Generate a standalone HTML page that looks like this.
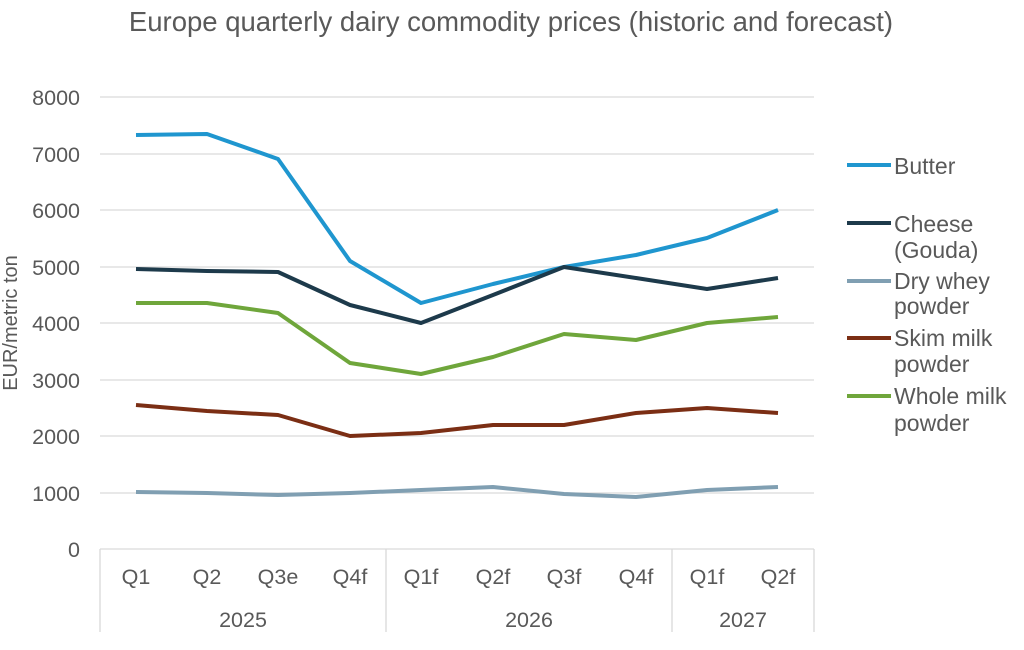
<!DOCTYPE html>
<html><head><meta charset="utf-8"><style>
html,body{margin:0;padding:0;background:#fff;}
svg text{font-family:"Liberation Sans",Arial,sans-serif;fill:#595959;}
</style></head><body>
<svg width="1024" height="645" viewBox="0 0 1024 645" xmlns="http://www.w3.org/2000/svg">
<text x="511" y="31" font-size="27.5" text-anchor="middle">Europe quarterly dairy commodity prices (historic and forecast)</text>
<g stroke="#d9d9d9" stroke-width="1.3">
<line x1="100" x2="814" y1="97" y2="97"/><line x1="100" x2="814" y1="154" y2="154"/>
<line x1="100" x2="814" y1="210" y2="210"/><line x1="100" x2="814" y1="267" y2="267"/>
<line x1="100" x2="814" y1="323" y2="323"/><line x1="100" x2="814" y1="380" y2="380"/>
<line x1="100" x2="814" y1="436" y2="436"/><line x1="100" x2="814" y1="493" y2="493"/>
<line x1="100" x2="814" y1="549" y2="549"/>
<line x1="100" x2="100" y1="549" y2="632"/><line x1="386" x2="386" y1="549" y2="632"/>
<line x1="672" x2="672" y1="549" y2="632"/><line x1="814" x2="814" y1="549" y2="632"/>
</g>
<g font-size="21.5" text-anchor="end">
<text x="80" y="105">8000</text><text x="80" y="162">7000</text><text x="80" y="218">6000</text>
<text x="80" y="275">5000</text><text x="80" y="331">4000</text><text x="80" y="388">3000</text>
<text x="80" y="444">2000</text><text x="80" y="501">1000</text><text x="80" y="557">0</text>
</g>
<text transform="translate(17,323) rotate(-90)" font-size="20" text-anchor="middle">EUR/metric ton</text>
<g font-size="21.5" text-anchor="middle">
<text x="136" y="584">Q1</text><text x="207" y="584">Q2</text><text x="278" y="584">Q3e</text>
<text x="350" y="584">Q4f</text><text x="421" y="584">Q1f</text><text x="493" y="584">Q2f</text>
<text x="564" y="584">Q3f</text><text x="636" y="584">Q4f</text><text x="707" y="584">Q1f</text>
<text x="778" y="584">Q2f</text>
<text x="243" y="627">2025</text><text x="529" y="627">2026</text><text x="743" y="627">2027</text>
</g>
<g fill="none" stroke-width="4" stroke-linejoin="round">
<polyline stroke="#1f96cf" points="136,135 207,134 278,159 350,261 421,303 493,284 564,267 636,255 707,238 778,210"/>
<polyline stroke="#1d3a4b" points="136,269 207,271 278,272 350,305 421,323 493,295 564,267 636,278 707,289 778,278"/>
<polyline stroke="#809fb2" points="136,492 207,493 278,495 350,493 421,490 493,487 564,494 636,497 707,490 778,487"/>
<polyline stroke="#7b2e14" points="136,405 207,411 278,415 350,436 421,433 493,425 564,425 636,413 707,408 778,413"/>
<polyline stroke="#6fa63b" points="136,303 207,303 278,313 350,363 421,374 493,357 564,334 636,340 707,323 778,317"/>
</g>
<g stroke-width="4">
<line x1="847" x2="891" y1="165" y2="165" stroke="#1f96cf"/>
<line x1="847" x2="891" y1="223" y2="223" stroke="#1d3a4b"/>
<line x1="847" x2="891" y1="281" y2="281" stroke="#809fb2"/>
<line x1="847" x2="891" y1="338" y2="338" stroke="#7b2e14"/>
<line x1="847" x2="891" y1="396" y2="396" stroke="#6fa63b"/>
</g>
<g font-size="23">
<text x="894" y="174">Butter</text>
<text x="894" y="232">Cheese</text><text x="894" y="258">(Gouda)</text>
<text x="894" y="289">Dry whey</text><text x="894" y="314">powder</text>
<text x="894" y="346">Skim milk</text><text x="894" y="372">powder</text>
<text x="894" y="404">Whole milk</text><text x="894" y="431">powder</text>
</g>
</svg>
</body></html>
